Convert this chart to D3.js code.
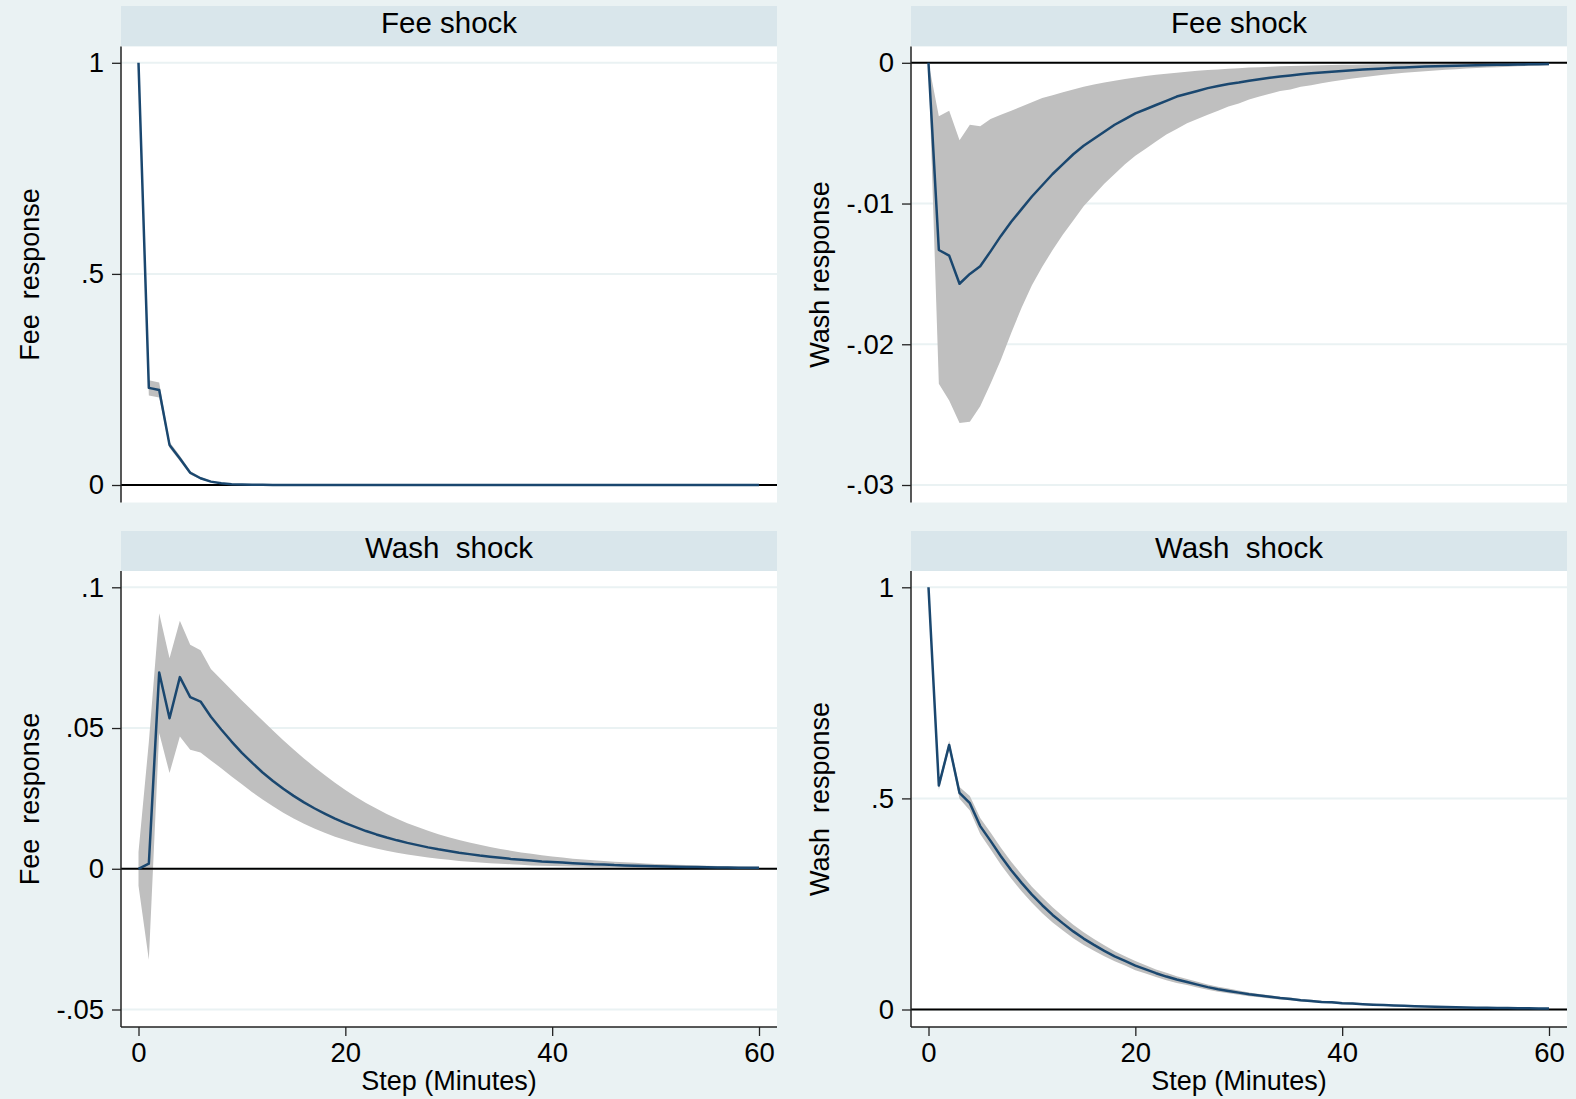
<!DOCTYPE html>
<html>
<head>
<meta charset="utf-8">
<script src="https://cdn.jsdelivr.net/npm/d3@7"></script>
<style>
  html, body { margin: 0; padding: 0; background: #eaf2f3; }
  text { font-family: "Liberation Sans", Arial, sans-serif; fill: #000; }
</style>
</head>
<body>
<div id="chart"></div>
<script>
// steps (minutes) 0..60
const steps = d3.range(0, 61)
const xTicks = [0, 20, 40, 60]

// Fee shock -> Fee response
const ff_irf = [1, 0.23, 0.225, 0.095, 0.063, 0.029, 0.016, 0.008, 0.004, 0.002, 0.001, 0.0005, 0.0003, 0.0002, 0.0001,
	0, 0, 0, 0, 0, 0, 0, 0, 0, 0, 0, 0, 0, 0, 0, 0, 0, 0, 0, 0, 0, 0, 0, 0, 0, 0, 0, 0, 0, 0, 0, 0, 0, 0, 0, 0, 0, 0, 0, 0, 0, 0, 0, 0, 0, 0]
const ff_hi = [1, 0.248, 0.243, 0.102, 0.069, 0.033, 0.019, 0.0095, 0.005, 0.0025, 0.0013, 0.0007, 0.0004, 0.0003, 0.0002,
	0, 0, 0, 0, 0, 0, 0, 0, 0, 0, 0, 0, 0, 0, 0, 0, 0, 0, 0, 0, 0, 0, 0, 0, 0, 0, 0, 0, 0, 0, 0, 0, 0, 0, 0, 0, 0, 0, 0, 0, 0, 0, 0, 0, 0, 0]
const ff_lo = [1, 0.212, 0.207, 0.088, 0.057, 0.025, 0.013, 0.0065, 0.003, 0.0015, 0.0007, 0.0003, 0.0002, 0.0001, 0,
	0, 0, 0, 0, 0, 0, 0, 0, 0, 0, 0, 0, 0, 0, 0, 0, 0, 0, 0, 0, 0, 0, 0, 0, 0, 0, 0, 0, 0, 0, 0, 0, 0, 0, 0, 0, 0, 0, 0, 0, 0, 0, 0, 0, 0, 0]

// Fee shock -> Wash response
const fw_irf = [0, -0.0133, -0.0137, -0.0157, -0.0150, -0.01445, -0.0134, -0.0123, -0.0113, -0.0104, -0.0095,
	-0.0087, -0.0079, -0.0072, -0.0065, -0.0059, -0.0054, -0.0049, -0.0044, -0.0040, -0.0036,
	-0.0033, -0.0030, -0.0027, -0.0024, -0.0022, -0.0020, -0.0018, -0.00165, -0.0015, -0.0014,
	-0.00128, -0.00117, -0.00107, -0.00098, -0.0009, -0.00082, -0.00075, -0.00069, -0.00063, -0.00058,
	-0.00053, -0.00048, -0.00044, -0.0004, -0.00036, -0.00033, -0.0003, -0.00027, -0.00025, -0.00023,
	-0.00021, -0.00019, -0.00017, -0.00016, -0.00014, -0.00013, -0.00012, -0.00011, -0.0001, -0.00009]
const fw_hi = [0, -0.0038, -0.0034, -0.0055, -0.0044, -0.0045, -0.0040, -0.0037, -0.0034, -0.0031, -0.0028,
	-0.0025, -0.0023, -0.0021, -0.0019, -0.0017, -0.00155, -0.0014, -0.00127, -0.00115, -0.00104,
	-0.00094, -0.00085, -0.00077, -0.0007, -0.00063, -0.00057, -0.00052, -0.00047, -0.00042, -0.00038,
	-0.00034, -0.00031, -0.00028, -0.00025, -0.00023, -0.00021, -0.00019, -0.00017, -0.00015, -0.00014,
	-0.00013, -0.00012, -0.00011, -0.0001, -0.00009, -0.00008, -0.00007, -0.00007, -0.00006, -0.00006,
	-0.00005, -0.00005, -0.00004, -0.00004, -0.00004, -0.00003, -0.00003, -0.00003, -0.00002, -0.00002]
const fw_lo = [0, -0.0228, -0.0240, -0.0256, -0.0255, -0.0244, -0.0228, -0.0211, -0.0192, -0.0174, -0.0158,
	-0.0145, -0.0133, -0.0122, -0.0112, -0.0102, -0.0094, -0.0086, -0.0079, -0.0072, -0.0066,
	-0.0061, -0.0056, -0.0051, -0.0047, -0.0043, -0.0040, -0.0037, -0.0034, -0.0031, -0.0029,
	-0.0026, -0.0024, -0.0022, -0.0020, -0.0019, -0.0017, -0.0016, -0.00145, -0.00133, -0.00122,
	-0.00112, -0.00102, -0.00093, -0.00085, -0.00078, -0.00071, -0.00065, -0.0006, -0.00055, -0.0005,
	-0.00045, -0.00041, -0.00037, -0.00034, -0.00031, -0.00028, -0.00025, -0.00022, -0.0002, -0.00018]

// Wash shock -> Fee response
const wf_irf = [0, 0.0018, 0.0697, 0.0535, 0.0681, 0.0610, 0.0594, 0.0540, 0.0495, 0.0452, 0.0412,
	0.0376, 0.0342, 0.0312, 0.0284, 0.0259, 0.0236, 0.0215, 0.0196, 0.0178, 0.0162,
	0.0148, 0.0134, 0.0122, 0.0111, 0.0101, 0.0092, 0.0084, 0.0076, 0.0069, 0.0063,
	0.0057, 0.0052, 0.0047, 0.0043, 0.0039, 0.0035, 0.0032, 0.0029, 0.0026, 0.0024,
	0.0022, 0.002, 0.0018, 0.0016, 0.0015, 0.0013, 0.0012, 0.0011, 0.001, 0.0009,
	0.0008, 0.00073, 0.00066, 0.0006, 0.00054, 0.00049, 0.00044, 0.0004, 0.00036, 0.00033]
const wf_hi = [0.006, 0.045, 0.0908, 0.0748, 0.0881, 0.0796, 0.0776, 0.0710, 0.0672, 0.0635, 0.0598,
	0.0562, 0.0527, 0.0491, 0.0457, 0.0424, 0.0392, 0.0362, 0.0333, 0.0306, 0.028,
	0.0256, 0.0234, 0.0214, 0.0195, 0.0178, 0.0162, 0.0148, 0.0135, 0.0123, 0.0112,
	0.0102, 0.0093, 0.0085, 0.0077, 0.007, 0.0064, 0.0058, 0.0053, 0.0048, 0.0044,
	0.004, 0.0036, 0.0033, 0.003, 0.0028, 0.0025, 0.0023, 0.0021, 0.0019, 0.0017,
	0.0016, 0.0014, 0.0013, 0.0012, 0.0011, 0.001, 0.0009, 0.0008, 0.00075, 0.0007]
const wf_lo = [-0.006, -0.0323, 0.0482, 0.034, 0.047, 0.0423, 0.0413, 0.0385, 0.0357, 0.0328, 0.0300,
	0.0272, 0.0246, 0.0222, 0.0199, 0.0179, 0.016, 0.0143, 0.0128, 0.0114, 0.0102,
	0.0091, 0.0081, 0.0072, 0.0064, 0.0057, 0.0051, 0.0045, 0.004, 0.0036, 0.0032,
	0.0028, 0.0025, 0.0022, 0.002, 0.0018, 0.0016, 0.0014, 0.0012, 0.0011, 0.001,
	0.0009, 0.0008, 0.0007, 0.0006, 0.00055, 0.0005, 0.00045, 0.0004, 0.00035, 0.0003,
	0.00028, 0.00025, 0.00022, 0.0002, 0.00018, 0.00016, 0.00014, 0.00012, 0.0001, 0.0001]

// Wash shock -> Wash response
const ww_irf = [1, 0.5305, 0.6267, 0.513, 0.4886, 0.4344, 0.3994, 0.363, 0.330, 0.300, 0.272,
	0.247, 0.224, 0.204, 0.185, 0.168, 0.153, 0.139, 0.126, 0.115, 0.104,
	0.095, 0.086, 0.078, 0.071, 0.065, 0.059, 0.053, 0.048, 0.044, 0.040,
	0.036, 0.033, 0.030, 0.027, 0.025, 0.022, 0.020, 0.018, 0.017, 0.015,
	0.014, 0.0127, 0.0115, 0.0104, 0.0095, 0.0086, 0.0078, 0.0071, 0.0064, 0.0058,
	0.0053, 0.0048, 0.0044, 0.004, 0.0036, 0.0033, 0.003, 0.0027, 0.0024, 0.0022]
const ww_hi = [1, 0.5405, 0.6367, 0.527, 0.5056, 0.4534, 0.4194, 0.383, 0.350, 0.320, 0.291,
	0.266, 0.242, 0.221, 0.201, 0.183, 0.167, 0.152, 0.138, 0.126, 0.115,
	0.105, 0.095, 0.087, 0.079, 0.072, 0.066, 0.059, 0.054, 0.0495, 0.045,
	0.0405, 0.037, 0.0337, 0.0304, 0.0282, 0.025, 0.0228, 0.0206, 0.0195, 0.0175,
	0.0163, 0.0148, 0.0134, 0.0121, 0.0111, 0.0101, 0.0092, 0.0084, 0.0076, 0.0069,
	0.0063, 0.0058, 0.0053, 0.0048, 0.0044, 0.004, 0.0037, 0.0034, 0.0031, 0.0029]
const ww_lo = [1, 0.5205, 0.6167, 0.499, 0.4716, 0.4154, 0.3794, 0.343, 0.310, 0.280, 0.253,
	0.228, 0.206, 0.187, 0.169, 0.153, 0.139, 0.126, 0.114, 0.104, 0.093,
	0.085, 0.077, 0.069, 0.063, 0.058, 0.052, 0.047, 0.042, 0.0385, 0.035,
	0.0315, 0.029, 0.0263, 0.0236, 0.0218, 0.019, 0.0172, 0.0154, 0.0145, 0.0125,
	0.0117, 0.0106, 0.0096, 0.0087, 0.0079, 0.0071, 0.0064, 0.0058, 0.0052, 0.0047,
	0.0043, 0.0038, 0.0035, 0.0032, 0.0028, 0.0026, 0.0023, 0.002, 0.0017, 0.0015]

// y tick values and their Stata-style labels
const unitTicks = [0, 0.5, 1]
const unitLabels = ["0", ".5", "1"]
const fwTicks = [-0.03, -0.02, -0.01, 0]
const fwLabels = ["-.03", "-.02", "-.01", "0"]
const wfTicks = [-0.05, 0, 0.05, 0.1]
const wfLabels = ["-.05", "0", ".05", ".1"]

const colours = {
	bg: "#eaf2f3",
	strip: "#d9e6eb",
	grid: "#eaf2f3",
	band: "#bfbfbf",
	line: "#1a476f",
	axis: "#222"
}

const W = 1576, H = 1099
const colX = [121, 911]
const plotW = 656
const rows = [
	{ stripTop: 6, plotTop: 46.5 },
	{ stripTop: 531, plotTop: 571 }
]
const stripH = 40.5
const plotH = 456

const panels = [
	{ col: 0, row: 0, title: "Fee shock", ytitle: "Fee  response", dom: [0, 1], ticks: unitTicks, labels: unitLabels, irf: ff_irf, lo: ff_lo, hi: ff_hi },
	{ col: 1, row: 0, title: "Fee shock", ytitle: "Wash response", dom: [-0.03, 0], ticks: fwTicks, labels: fwLabels, irf: fw_irf, lo: fw_lo, hi: fw_hi },
	{ col: 0, row: 1, title: "Wash  shock", ytitle: "Fee  response", dom: [-0.05, 0.1], ticks: wfTicks, labels: wfLabels, irf: wf_irf, lo: wf_lo, hi: wf_hi },
	{ col: 1, row: 1, title: "Wash  shock", ytitle: "Wash  response", dom: [0, 1], ticks: unitTicks, labels: unitLabels, irf: ww_irf, lo: ww_lo, hi: ww_hi }
]

const svg = d3.select("#chart").append("svg")
	.attr("width", W)
	.attr("height", H)

svg.append("rect")
	.attr("width", W)
	.attr("height", H)
	.attr("fill", colours.bg)

panels.forEach(p => {
	const left = colX[p.col]
	const r = rows[p.row]
	const top = r.plotTop
	const bottom = top + plotH

	const x = d3.scaleLinear().domain([0, 60]).range([left + 17.5, left + plotW - 18])
	const y = d3.scaleLinear().domain(p.dom).range([bottom - 17.5, top + 16.3])

	const g = svg.append("g").attr("class", "panel")

	// strip with the shock name
	g.append("rect")
		.attr("x", left)
		.attr("y", r.stripTop)
		.attr("width", plotW)
		.attr("height", stripH)
		.attr("fill", colours.strip)
	g.append("text")
		.attr("x", left + plotW / 2)
		.attr("y", r.stripTop + 27)
		.attr("text-anchor", "middle")
		.style("font-size", "29.5px")
		.style("white-space", "pre")
		.text(p.title)

	// plot region
	g.append("rect")
		.attr("x", left)
		.attr("y", top)
		.attr("width", plotW)
		.attr("height", plotH)
		.attr("fill", "#fff")

	g.selectAll(".grid")
		.data(p.ticks)
		.enter()
		.append("line")
		.attr("class", "grid")
		.attr("x1", left)
		.attr("x2", left + plotW)
		.attr("y1", d => y(d))
		.attr("y2", d => y(d))
		.attr("stroke", colours.grid)
		.attr("stroke-width", 2)

	const rowsData = steps.map((s, i) => ({ s, irf: p.irf[i], lo: p.lo[i], hi: p.hi[i] }))

	g.append("path")
		.datum(rowsData)
		.attr("fill", colours.band)
		.attr("d", d3.area().x(d => x(d.s)).y0(d => y(d.lo)).y1(d => y(d.hi)))

	// zero reference line
	g.append("line")
		.attr("x1", left)
		.attr("x2", left + plotW)
		.attr("y1", y(0))
		.attr("y2", y(0))
		.attr("stroke", "#000")
		.attr("stroke-width", 2)

	g.append("path")
		.datum(rowsData)
		.attr("fill", "none")
		.attr("stroke", colours.line)
		.attr("stroke-width", 2.5)
		.attr("stroke-linejoin", "round")
		.attr("d", d3.line().x(d => x(d.s)).y(d => y(d.irf)))

	// y axis
	const yAxis = g.append("g")
		.attr("transform", `translate(${left},0)`)
		.call(d3.axisLeft(y).tickValues(p.ticks).tickFormat((d, i) => p.labels[i]).tickSize(9).tickPadding(8).tickSizeOuter(0))
	yAxis.select(".domain").remove()
	yAxis.selectAll(".tick line").attr("stroke", colours.axis).attr("stroke-width", 1.3)
	yAxis.selectAll(".tick text").style("font-size", "27.5px").attr("fill", "#000")
	yAxis.attr("font-family", null)

	g.append("line")
		.attr("x1", left)
		.attr("x2", left)
		.attr("y1", top)
		.attr("y2", bottom)
		.attr("stroke", colours.axis)
		.attr("stroke-width", 1.5)

	g.append("text")
		.attr("transform", `translate(${left - 82},${top + plotH / 2}) rotate(-90)`)
		.attr("text-anchor", "middle")
		.style("font-size", "27px")
		.style("white-space", "pre")
		.text(p.ytitle)

	// x axis only under the bottom row
	if (p.row === 1) {
		const xAxis = g.append("g")
			.attr("transform", `translate(0,${bottom})`)
			.call(d3.axisBottom(x).tickValues(xTicks).tickSize(9).tickPadding(6).tickSizeOuter(0))
		xAxis.select(".domain").remove()
		xAxis.selectAll(".tick line").attr("stroke", colours.axis).attr("stroke-width", 1.3)
		xAxis.selectAll(".tick text").style("font-size", "27.5px").attr("fill", "#000")
		xAxis.attr("font-family", null)

		g.append("line")
			.attr("x1", left)
			.attr("x2", left + plotW)
			.attr("y1", bottom)
			.attr("y2", bottom)
			.attr("stroke", colours.axis)
			.attr("stroke-width", 1.5)

		g.append("text")
			.attr("x", left + plotW / 2)
			.attr("y", 1090)
			.attr("text-anchor", "middle")
			.style("font-size", "27px")
			.text("Step (Minutes)")
	}
})
</script>
</body>
</html>
